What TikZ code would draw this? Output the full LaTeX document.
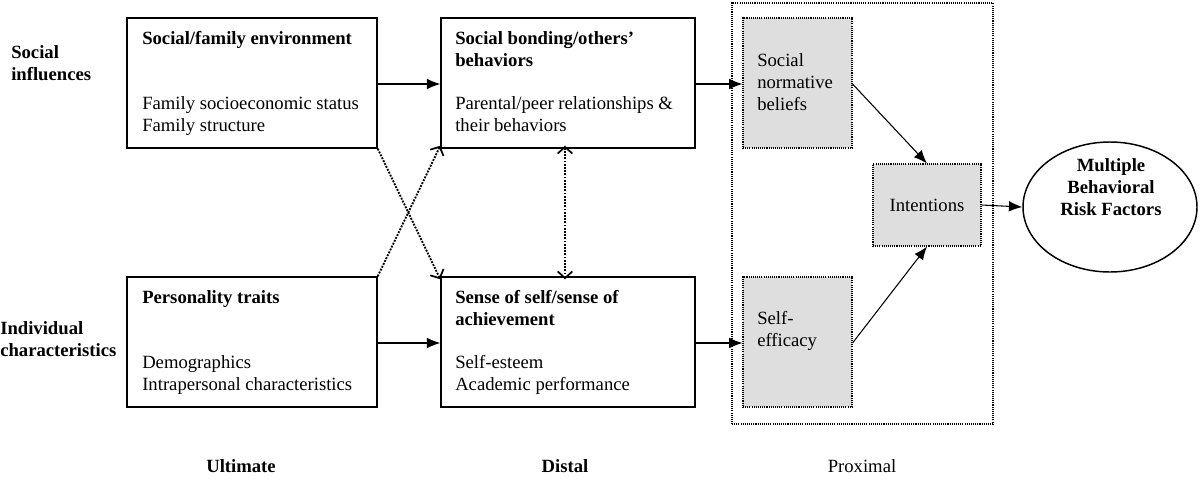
\documentclass[tikz,border=0pt]{standalone}
\usepackage{fontspec}
\setmainfont{Liberation Serif}
\usetikzlibrary{arrows.meta,shapes.geometric}
\begin{document}
\begin{tikzpicture}[x=0.75pt,y=-0.75pt,
  mainbox/.style={draw,line width=1.1pt,inner sep=0pt},
  shadebox/.style={draw,fill=black!13,line width=0.8pt,dash pattern=on 0.8pt off 0.8pt,inner sep=0pt},
  outerbox/.style={draw,line width=0.8pt,dash pattern=on 0.8pt off 0.8pt,inner sep=0pt},
  txt/.style={inner sep=0pt,anchor=north west,align=left,font=\fontsize{14pt}{16.5pt}\selectfont},
  btxt/.style={txt,font=\fontsize{14pt}{16.5pt}\selectfont\bfseries},
  sarrow/.style={line width=0.8pt,-{Latex[length=10pt,width=8pt]}},
  barb/.style={Straight Barb[length=5pt,width=11pt,line width=1.3pt]},
  darrow/.style={line width=1.4pt,dash pattern=on 1.4pt off 1pt,-{Straight Barb[length=5pt,width=11pt,line width=1.3pt]}},
  ddarrow/.style={line width=1.4pt,dash pattern=on 1.4pt off 1pt,{Straight Barb[length=5pt,width=11pt,line width=1.3pt]}-{Straight Barb[length=5pt,width=11pt,line width=1.3pt]}}
]
\useasboundingbox (0,0) rectangle (1200,479);
% main boxes
\node[mainbox,minimum width=250*0.75pt,minimum height=130*0.75pt] (b1) at (252,83) {};
\node[mainbox,minimum width=254*0.75pt,minimum height=130*0.75pt] (b2) at (568,83) {};
\node[mainbox,minimum width=250*0.75pt,minimum height=130*0.75pt] (b3) at (252,342) {};
\node[mainbox,minimum width=254*0.75pt,minimum height=130*0.75pt] (b4) at (568,342) {};
% proximal
\node[outerbox,minimum width=261*0.75pt,minimum height=421*0.75pt] (prox) at (862.5,213.5) {};
\node[shadebox,minimum width=109*0.75pt,minimum height=130*0.75pt] (snb) at (797.5,83) {};
\node[shadebox,minimum width=108*0.75pt,minimum height=82*0.75pt] (int) at (927,205) {};
\node[shadebox,minimum width=109*0.75pt,minimum height=130*0.75pt] (se) at (797.5,342) {};
\node[draw,line width=1.1pt,ellipse,minimum width=174*0.75pt,minimum height=130*0.75pt,inner sep=0pt] (mbr) at (1110,207) {};
% texts
\node[btxt] (t1a) at (142,31) {Social/family environment};
\node[txt] (t1b) at (142,96) {Family socioeconomic status\\Family structure};
\node[btxt] (t2a) at (455,31) {Social bonding/others’\\behaviors};
\node[txt] (t2b) at (455,96) {Parental/peer relationships \&\\their behaviors};
\node[btxt] (t3a) at (142,290) {Personality traits};
\node[txt] (t3b) at (142,355) {Demographics\\Intrapersonal characteristics};
\node[btxt] (t4a) at (455,290) {Sense of self/sense of\\achievement};
\node[txt] (t4b) at (455,355) {Self-esteem\\Academic performance};
\node[txt] (tsnb) at (757,53) {Social\\normative\\beliefs};
\node[txt] (tse) at (757,311) {Self-\\efficacy};
\node[txt,anchor=center] (tint) at (927,205) {Intentions};
\node[btxt,anchor=center,align=center] (tmbr) at (1111,187) {Multiple\\Behavioral\\Risk Factors};
\node[btxt] (lsoc) at (11,45) {Social\\influences};
\node[btxt] (lind) at (0,321) {Individual\\characteristics};
\node[btxt,anchor=center] (lult) at (241,466) {Ultimate};
\node[btxt,anchor=center] (ldis) at (565,466) {Distal};
\node[txt,anchor=center] (lpro) at (862,466) {Proximal};
% arrows
\draw[sarrow] (b1.east |- 0,84) -- (b2.west |- 0,84);
\draw[sarrow] (b2.east |- 0,84) -- (snb.west |- 0,84);
\draw[sarrow] (b3.east |- 0,343) -- (b4.west |- 0,343);
\draw[sarrow] (b4.east |- 0,343) -- (se.west |- 0,343);
\draw[sarrow] (int.east) -- (mbr.west);
\draw[sarrow] (snb.east |- 0,84) -- (int.north);
\draw[sarrow] (se.east |- 0,343) -- (int.south);
\draw[darrow] (b1.south east) -- ([yshift=-3*0.75pt]b4.north west);
\draw[darrow] (b3.north east) -- ([yshift=3*0.75pt]b2.south west);
\draw[ddarrow] ([yshift=3*0.75pt]b2.south -| 565,0) -- ([yshift=-3*0.75pt]b4.north -| 565,0);
\end{tikzpicture}
\end{document}
